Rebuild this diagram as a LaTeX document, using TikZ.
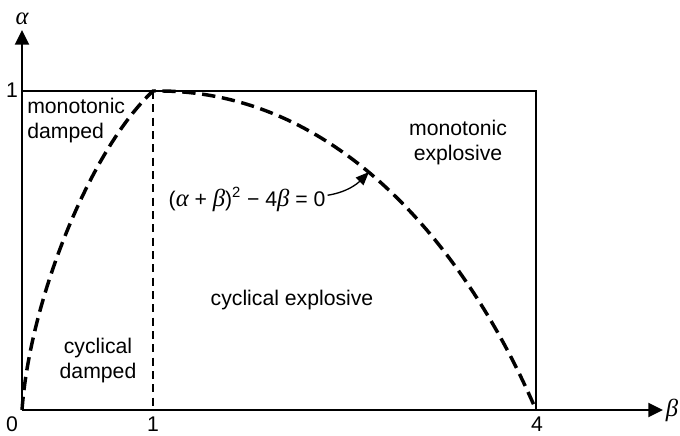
\documentclass[tikz,border=0pt]{standalone}
\usepackage{fontspec}
\setmainfont{Liberation Sans}
\newfontfamily\grk{Liberation Serif}
\usetikzlibrary{arrows.meta}
\newcommand{\ga}{{\grk\itshape\fontsize{18.5}{20}\selectfont α}}
\newcommand{\gb}{{\grk\itshape\fontsize{18.5}{20}\selectfont β}}
\begin{document}
\begin{tikzpicture}[x=0.75pt,y=-0.75pt,
  lbl/.style={font=\fontsize{15.9}{18.75}\selectfont, inner sep=0pt},
  greek/.style={font=\fontsize{19}{20}\selectfont, inner sep=0pt},
  axis/.style={line width=1.5pt,-{Triangle[length=11pt,width=10.5pt]}},
  frame/.style={line width=1.2pt},
  curve/.style={line width=2.6pt, dash pattern=on 10pt off 5pt},
  guide/.style={line width=0.9pt, dash pattern=on 6pt off 4pt},
  pointer/.style={line width=1pt,-{Triangle[length=10pt,width=8pt]}},
]
\useasboundingbox (0,0) rectangle (680,435);
\coordinate (O) at (22,410);
\coordinate (Ytip) at (22,30);
\coordinate (Xtip) at (663,410);
\coordinate (P) at (153,91);
\coordinate (B1) at (153,410);
\coordinate (B4) at (536,410);
\coordinate (TL) at (22,91);
\coordinate (TR) at (536,91);
\coordinate (Tip) at (369,172);

\draw[frame] (TL) -- (TR) -- (B4);
\draw[guide] (P) -- (B1);
\draw[curve] (O) .. controls (30,300) and (90,150) .. (P)
             .. controls (335,88) and (465,245) .. (B4);
\draw[axis] (O) -- (Ytip);
\draw[axis] (O) -- (Xtip);

\node[greek] (alpha) at (22,19) {\ga};
\node[greek] (beta) at (672,410) {\gb};
\node[lbl] (y1) at (12,90) {1};
\node[lbl, anchor=base] (x0) at (12,431) {0};
\node[lbl, anchor=base] (x1) at (153,431) {1};
\node[lbl, anchor=base] (x4) at (537,431) {4};

\node[lbl, align=left, anchor=west] (md) at (27,121) {monotonic\\damped};
\node[lbl, align=center] (me) at (458,143) {monotonic\\explosive};
\node[lbl, align=center] (cd) at (98,360.5) {cyclical\\damped};
\node[lbl, anchor=base] (ce) at (292,305.5) {cyclical explosive};
\node[lbl, anchor=base] (F) at (247,206) {(\ga\ + \gb)\textsuperscript{2} − 4\gb\ = 0};

\draw[pointer] (F.east) ++(0,-4) coordinate (Ftail)
  (Ftail) ++(2,0) .. controls (348,192) and (358,183) .. (Tip);
\end{tikzpicture}
\end{document}
